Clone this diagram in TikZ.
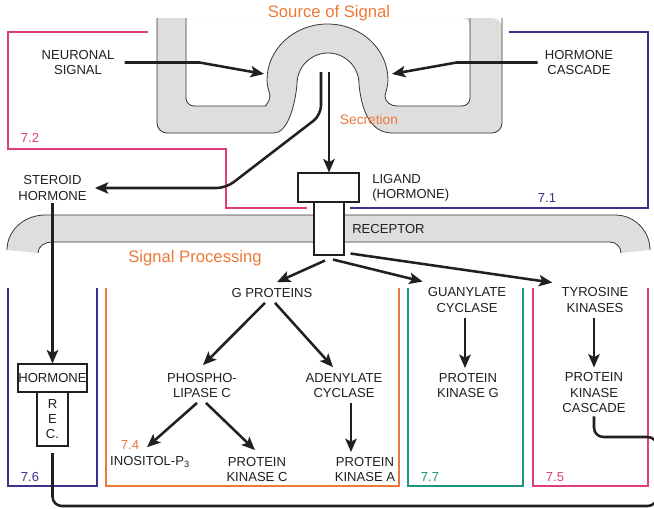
\documentclass[tikz,border=0pt]{standalone}
\usepackage{fontspec}
\setmainfont{Liberation Sans}
\usetikzlibrary{arrows.meta,calc}

\definecolor{srcorange}{RGB}{236,121,56}
\definecolor{pathpink}{RGB}{222,62,126}
\definecolor{pathblue}{RGB}{60,48,140}
\definecolor{pathteal}{RGB}{28,150,128}
\definecolor{memgray}{RGB}{221,222,221}
\definecolor{ink}{RGB}{35,31,32}

\begin{document}
\begin{tikzpicture}[x=0.75pt,y=0.75pt,yscale=-1,>={Stealth[length=10pt,width=8.5pt,inset=2.2pt]},
  txt/.style={font=\fontsize{9.8}{11.3}\selectfont,text=ink,align=center,inner sep=0pt},
  num/.style={font=\fontsize{9.8}{11.3}\selectfont,inner sep=0pt},
  title/.style={font=\fontsize{12.5}{14}\selectfont,text=srcorange,inner sep=0pt},
  sigline/.style={draw=ink,line width=1.9pt},
  frame/.style={line width=1.1pt},
  box/.style={draw=ink,fill=white,line width=0.8pt,inner sep=0pt},
  memfill/.style={fill=memgray,even odd rule},
  memedge/.style={draw=ink!90,line width=0.6pt}]

\useasboundingbox (0,0) rectangle (654,508);
\clip (0,0) rectangle (654,508);

% membrane round the source
\path[memfill] (157,18) [rounded corners=7.5pt] -- (157,133) -- (264,133) [sharp corners] to[out=0,in=95] (297,84) arc[start angle=180,end angle=360,radius=31] to[out=85,in=180] (392,133) [rounded corners=7.5pt] -- (502,133) -- (502,18) [sharp corners] -- cycle
  (186,18) [rounded corners=6pt] -- (186,106) -- (258,106) [sharp corners] to[out=0,in=90] (270,96) to[out=-100,in=90] (267,80) arc[start angle=180,end angle=360,x radius=60.5,y radius=56] to[out=90,in=-80] (385,96) to[out=90,in=180] (397,106) [rounded corners=6pt] -- (470,106) -- (470,18) [sharp corners] -- cycle;
\draw[memedge] (157,18) [rounded corners=7.5pt] -- (157,133) -- (264,133) [sharp corners] to[out=0,in=95] (297,84) arc[start angle=180,end angle=360,radius=31] to[out=85,in=180] (392,133) [rounded corners=7.5pt] -- (502,133) -- (502,18);
\draw[memedge] (186,18) [rounded corners=6pt] -- (186,106) -- (258,106) [sharp corners] to[out=0,in=90] (270,96) to[out=-100,in=90] (267,80) arc[start angle=180,end angle=360,x radius=60.5,y radius=56] to[out=90,in=-80] (385,96) to[out=90,in=180] (397,106) [rounded corners=6pt] -- (470,106) -- (470,18);

% membrane of the target cell
\path[fill=memgray] (7,250) to[out=-90,in=180] (45,215) -- (615,215) to[out=0,in=-90] (650,250) -- (621,253) to[out=-90,in=0] (610,242) -- (52,242) to[out=180,in=-90] (38,253) -- cycle;
\draw[memedge] (7,250) to[out=-90,in=180] (45,215) -- (615,215) to[out=0,in=-90] (650,250);
\draw[memedge] (38,253) to[out=-90,in=180] (52,242) -- (610,242) to[out=0,in=-90] (621,253);

\draw[frame,pathpink] (148,32) -- (8,32) -- (8,149) -- (226,149) -- (226,208) -- (307,208);
\draw[frame,pathblue] (509,32) -- (648,32) -- (648,208) -- (350,208);
\draw[frame,pathblue] (8,288) -- (8,486) -- (97,486) -- (97,288);
\draw[frame,srcorange] (106,288) -- (106,486) -- (399,486) -- (399,288);
\draw[frame,pathteal] (408,288) -- (408,486) -- (523,486) -- (523,288);
\draw[frame,pathpink] (533,288) -- (533,486) -- (648,486) -- (648,288);

\node[title] (source) at (329,13) {Source of Signal};
\node[txt] (neuro) at (78,62.5) {NEURONAL\\SIGNAL};
\node[txt] (hcasc) at (579,62.5) {HORMONE\\CASCADE};
\node[title,font=\fontsize{10.3}{12}\selectfont] (secr) at (369,120) {Secretion};
\node[txt] (steroid) at (52.5,188) {STEROID\\HORMONE};
\node[box,minimum width=22.5pt,minimum height=39.75pt] (receptor) at (329,228.5) {};
\node[box,minimum width=45.75pt,minimum height=21.75pt] (ligand) at (328.5,187.5) {};
\node[txt,align=left,anchor=west] (ligtxt) at (372,187.5) {LIGAND\\(HORMONE)};
\node[txt,anchor=west] (rectxt) at (352,229) {RECEPTOR};
\node[num,text=pathpink] (n72) at (30,138) {7.2};
\node[num,text=pathblue] (n71) at (547,198) {7.1};
\node[title] (proc) at (195,258) {Signal Processing};
\node[txt] (gprot) at (272,293) {G PROTEINS};
\node[txt] (guan) at (467,300) {GUANYLATE\\CYCLASE};
\node[txt] (tyro) at (595,300) {TYROSINE\\KINASES};
\node[txt] (plc) at (202,385.5) {PHOSPHO-\\LIPASE C};
\node[txt] (adc) at (344,385.5) {ADENYLATE\\CYCLASE};
\node[txt] (pkg) at (468,385.5) {PROTEIN\\KINASE G};
\node[txt] (pkcasc) at (594,392.5) {PROTEIN\\KINASE\\CASCADE};
\node[txt] (ip3) at (150,462) {INOSITOL-P\textsubscript{3}};
\node[txt] (pkc) at (257,469.5) {PROTEIN\\KINASE C};
\node[txt] (pka) at (365,469.5) {PROTEIN\\KINASE A};
\node[box,txt,minimum width=51.75pt,minimum height=21pt] (hormbox) at (52.5,378) {HORMONE};
\node[box,txt,minimum width=23.25pt,minimum height=40.5pt] (recbox) at (52.5,419) {R\\E\\C.};
\node[num,text=srcorange] (n74) at (130,445) {7.4};
\node[num,text=pathblue] (n76) at (30,477) {7.6};
\node[num,text=pathteal] (n77) at (430,477) {7.7};
\node[num,text=pathpink] (n75) at (555,477) {7.5};

\coordinate (neurotip) at (264,74);
\coordinate (hormtip) at (392,74);
\coordinate (sec1) at (321,72);
\coordinate (sec2) at (329,72);
\coordinate (loopbr) at (657,506);
\coordinate (loopr) at (657,437);

\draw[sigline,->] ($(neuro.east)+(10,0)$) -- ++(75,0) -- (neurotip);
\draw[sigline,->] ($(hcasc.west)+(-7,0)$) -- ++(-81,0) -- (hormtip);
\draw[sigline,->,rounded corners=7pt] (sec1) -- ++(0,43) -- (226,188) -- ($(steroid.east)+(8,0)$);
\draw[sigline,->] (sec2) -- (sec2 |- ligand.north);
\draw[sigline,->,shorten <=2pt] (steroid.south) -- (hormbox.north);
\draw[sigline,->] ($(receptor.south)+(-4,5)$) -- ($(gprot.north)+(5,-6)$);
\draw[sigline,->] ($(receptor.south)+(4,4)$) -- ($(guan.north west)+(-5,-6)$);
\draw[sigline,->] ($(receptor.south east)+(6,-2)$) -- ($(tyro.north west)+(-9,-5)$);
\draw[sigline,->] ($(gprot.south)+(-7,5)$) -- ($(plc.north)+(1,-8)$);
\draw[sigline,->] ($(gprot.south)+(3,5)$) -- ($(adc.north)+(-11,-6)$);
\draw[sigline,->] ($(plc.south)+(-5,5)$) -- ($(ip3.north)+(-3,-9)$);
\draw[sigline,->] ($(plc.south)+(4,5)$) -- ($(pkc.north)+(-2,-7)$);
\draw[sigline,->] ($(adc.south)+(7,5)$) -- ($(pka.north)+(-14,-5)$);
\draw[sigline,->] ($(guan.south)+(-2,6)$) -- ($(pkg.north)+(-3,-5)$);
\draw[sigline,->] ($(tyro.south)+(-1,6)$) -- ($(pkcasc.north)+(0,-5)$);
\draw[sigline,rounded corners=7pt,shorten <=5pt,shorten >=3pt] (recbox.south) -- (recbox.south |- loopbr) -- (loopbr) -- (loopr) -- (pkcasc.south |- loopr) -- (pkcasc.south);
\end{tikzpicture}
\end{document}
